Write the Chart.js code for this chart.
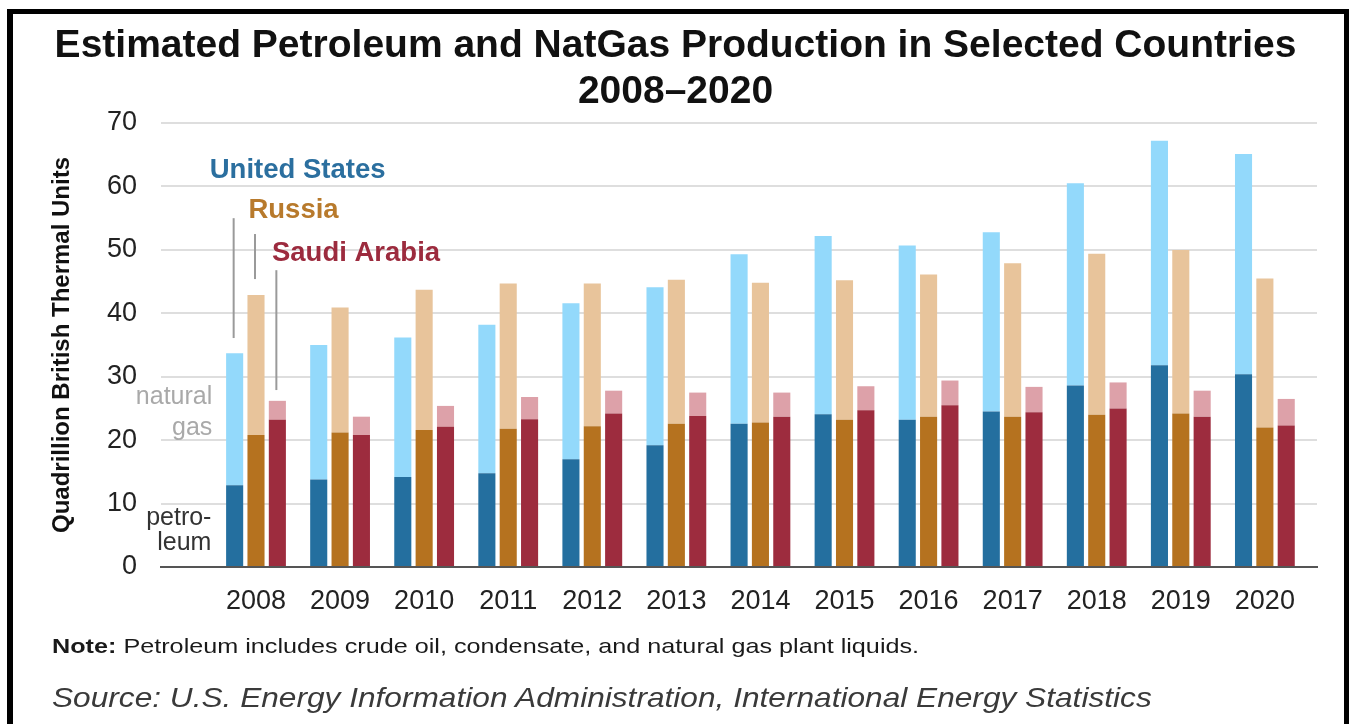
<!DOCTYPE html>
<html>
<head>
<meta charset="utf-8">
<script src="https://cdn.jsdelivr.net/npm/chart.js@4"></script>
<style>
  body { margin: 0; background: #fff; }
  #wrap { position: relative; width: 1351px; height: 724px; overflow: hidden; font-family: 'Liberation Sans', Arial, sans-serif; }
  #frame { position: absolute; left: 7px; top: 9px; width: 1331px; height: 760px; border: solid #000; border-width: 5px 5px 0 6px; pointer-events: none; }
  .note { position: absolute; left: 52px; top: 634px; font-size: 21px; line-height: 24px; color: #1a1a1a; white-space: nowrap; transform: scaleX(1.2); transform-origin: left center; }
  .source { position: absolute; left: 52px; top: 682px; font-size: 28px; line-height: 32px; font-style: italic; color: #3a3a3a; white-space: nowrap; transform: scaleX(1.13); transform-origin: left center; }
</style>
</head>
<body>
<div id="wrap">
  <canvas id="chart"></canvas>
  <div class="note"><b>Note:</b> Petroleum includes crude oil, condensate, and natural gas plant liquids.</div>
  <div class="source">Source: U.S. Energy Information Administration, International Energy Statistics</div>
  <div id="frame"></div>
</div>
<script>
const years = [2008, 2009, 2010, 2011, 2012, 2013, 2014, 2015, 2016, 2017, 2018, 2019, 2020];

// quadrillion Btu
const usPetroleum = [12.9, 13.8, 14.2, 14.8, 17.0, 19.2, 22.6, 24.1, 23.2, 24.5, 28.6, 31.8, 30.4];
const usGas       = [20.8, 21.2, 22.0, 23.4, 24.6, 24.9, 26.7, 28.1, 27.5, 28.3, 31.9, 35.4, 34.7];
const ruPetroleum = [20.8, 21.2, 21.6, 21.8, 22.2, 22.6, 22.8, 23.2, 23.7, 23.7, 24.0, 24.2, 22.0];
const ruGas       = [22.1, 19.7, 22.1, 22.9, 22.5, 22.7, 22.0, 22.0, 22.4, 24.2, 25.4, 25.8, 23.5];
const saPetroleum = [23.2, 20.8, 22.1, 23.3, 24.2, 23.8, 23.7, 24.7, 25.5, 24.4, 25.0, 23.7, 22.3];
const saGas       = [3.0, 2.9, 3.3, 3.5, 3.6, 3.7, 3.8, 3.8, 3.9, 4.0, 4.1, 4.1, 4.2];

const yTicks = [0, 10, 20, 30, 40, 50, 60, 70];

const FONT = "'Liberation Sans', Arial, sans-serif";

function series(label, values, stack, color) {
    return {
        label: label,
        data: values.map((v, i) => ({ x: years[i], y: v })),
        stack: stack,
        backgroundColor: color,
        borderWidth: 0,
        categoryPercentage: 0.762,
        barPercentage: 0.8
    };
}

// in-chart labels, placed in data units (x = year, y = value)
const countryLabels = [
    { text: 'United States', x: 2007.45, y: 62.6, color: '#2b6f9f' },
    { text: 'Russia',        x: 2007.91, y: 56.2, color: '#b87a2c' },
    { text: 'Saudi Arabia',  x: 2008.19, y: 49.5, color: '#9c2b3e' }
];
// leader lines: dataset index of the top segment, from / to value
const leaders = [
    { dataset: 1, from: 55.0, to: 36.1 },
    { dataset: 3, from: 52.5, to: 45.4 },
    { dataset: 5, from: 46.8, to: 27.9 }
];
const sideLabels = [
    { text: 'natural', x: 2007.48, y: 26.8, color: '#a9a9a9' },
    { text: 'gas',     x: 2007.48, y: 21.9, color: '#a9a9a9' },
    { text: 'petro-',  x: 2007.47, y: 7.7,  color: '#333333' },
    { text: 'leum',    x: 2007.47, y: 3.8,  color: '#333333' }
];

const annotate = {
    id: 'annotate',
    afterDatasetsDraw(chart) {
        const { ctx, scales: { x, y } } = chart;
        ctx.save();
        ctx.strokeStyle = '#9a9a9a';
        ctx.lineWidth = 2;
        leaders.forEach(l => {
            const bar = chart.getDatasetMeta(l.dataset).data[0];
            ctx.beginPath();
            ctx.moveTo(bar.x - 1, y.getPixelForValue(l.from));
            ctx.lineTo(bar.x - 1, y.getPixelForValue(l.to));
            ctx.stroke();
        });
        ctx.textBaseline = 'middle';
        ctx.textAlign = 'left';
        ctx.font = 'bold 27.5px ' + FONT;
        countryLabels.forEach(l => {
            ctx.fillStyle = l.color;
            ctx.fillText(l.text, x.getPixelForValue(l.x), y.getPixelForValue(l.y));
        });
        ctx.textAlign = 'right';
        ctx.font = '25px ' + FONT;
        sideLabels.forEach(l => {
            ctx.fillStyle = l.color;
            ctx.fillText(l.text, x.getPixelForValue(l.x), y.getPixelForValue(l.y));
        });
        ctx.restore();
    }
};

new Chart(document.getElementById('chart'), {
    type: 'bar',
    data: {
        datasets: [
            series('United States petroleum', usPetroleum, 'us', '#246f9f'),
            series('United States natural gas', usGas, 'us', '#93d9fb'),
            series('Russia petroleum', ruPetroleum, 'ru', '#b5721f'),
            series('Russia natural gas', ruGas, 'ru', '#e8c49b'),
            series('Saudi Arabia petroleum', saPetroleum, 'sa', '#9d2c3e'),
            series('Saudi Arabia natural gas', saGas, 'sa', '#dda1a9')
        ]
    },
    options: {
        responsive: true,
        maintainAspectRatio: false,
        animation: false,
        layout: { padding: { left: 0, right: 0, top: 0, bottom: 107 } },
        plugins: {
            legend: { display: false },
            tooltip: { enabled: false },
            title: {
                display: true,
                text: ['Estimated Petroleum and NatGas Production in Selected Countries', '2008\u20132020'],
                color: '#111',
                font: { family: FONT, size: 39, weight: 'bold', lineHeight: 1.18 },
                padding: { top: 23, bottom: 8 }
            }
        },
        scales: {
            x: {
                type: 'linear',
                stacked: true,
                offset: false,
                min: 2006.87,
                max: 2020.62,
                afterBuildTicks: s => { s.ticks = years.map(v => ({ value: v })); },
                afterFit: s => { s.height = 50; },
                grid: { display: false, drawTicks: false },
                border: { display: true, color: '#555', width: 2 },
                ticks: {
                    padding: 18,
                    color: '#222',
                    font: { family: FONT, size: 27 },
                    callback: v => String(v)
                }
            },
            y: {
                stacked: true,
                min: 0,
                max: 70,
                afterBuildTicks: s => { s.ticks = yTicks.map(v => ({ value: v })); },
                afterFit: s => { s.width = 161; },
                grid: { color: '#dedede', lineWidth: 2, drawTicks: false },
                border: { display: false },
                ticks: {
                    padding: 24,
                    color: '#222',
                    font: { family: FONT, size: 27 }
                },
                title: {
                    display: true,
                    text: 'Quadrillion British Thermal Units',
                    color: '#111',
                    font: { family: FONT, size: 24, weight: 'bold', lineHeight: 1.2 },
                    padding: { top: 48, bottom: 0 }
                }
            },
            // empty right-hand margin so the title centres on the whole page
            yRight: {
                position: 'right',
                min: 0,
                max: 70,
                afterFit: s => { s.width = 34; },
                grid: { display: false, drawTicks: false },
                border: { display: false },
                ticks: { display: false }
            }
        }
    },
    plugins: [annotate]
});
</script>
</body>
</html>
